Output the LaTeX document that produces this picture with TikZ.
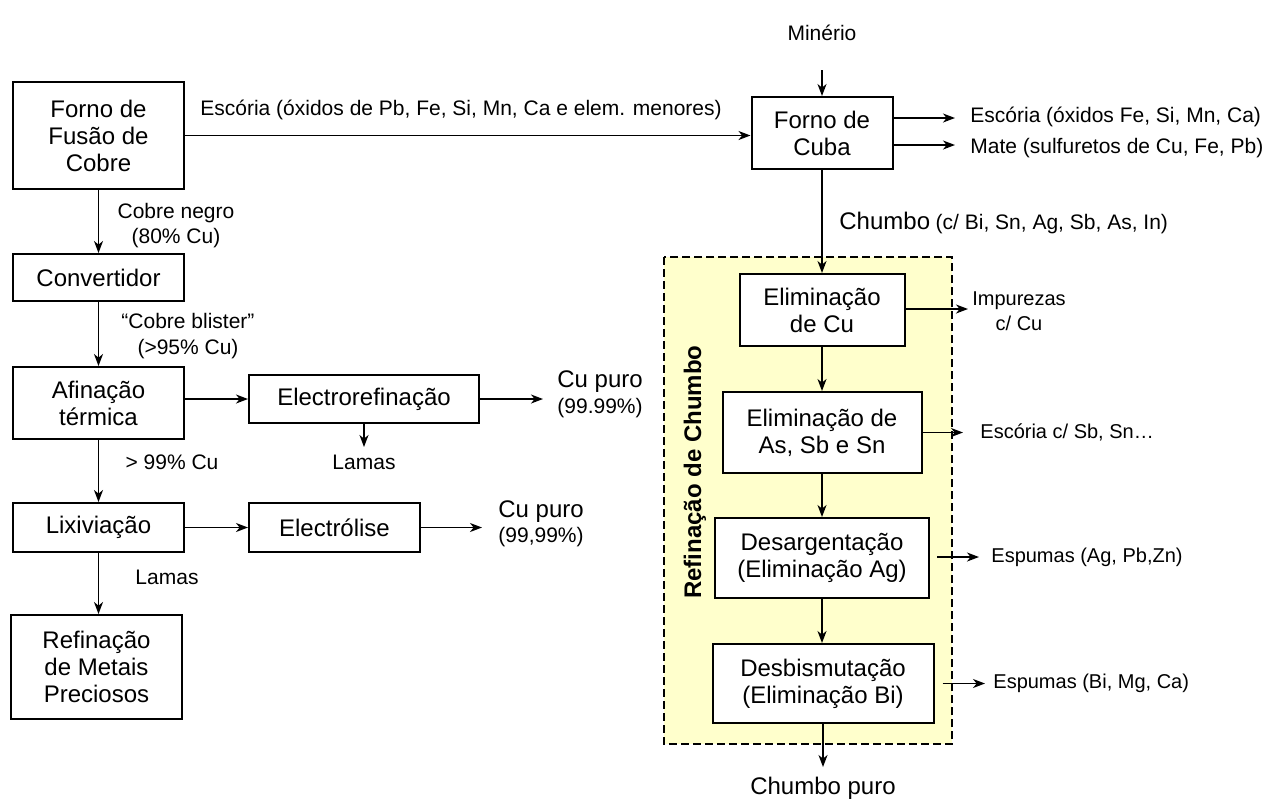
\documentclass[tikz,border=0pt]{standalone}
\usepackage{fontspec}
\setmainfont{Liberation Sans}
\usetikzlibrary{arrows.meta}
\definecolor{panel}{RGB}{255,255,204}

\begin{document}
\begin{tikzpicture}[x=0.5pt,y=-0.5pt,
  box/.style={draw, line width=1pt, fill=white, align=center, inner sep=0pt,
    font=\fontsize{12}{13.5}\selectfont},
  lbl/.style={align=center, inner sep=0pt, font=\fontsize{10.5}{12.8}\selectfont},
  big/.style={inner sep=0pt, font=\fontsize{12}{14}\selectfont},
  outlbl/.style={anchor=west, inner sep=0pt, font=\fontsize{10}{12.5}\selectfont},
  flow/.style={line width=0.75pt, -{Stealth[length=6pt,width=4.5pt,inset=1.8pt]}},
]
\useasboundingbox (0,0) rectangle (1268,800);

% lead refining panel
\draw[fill=panel, line width=0.8pt, dash pattern=on 4pt off 2pt] (664,257) rectangle (952,744);
\node[rotate=90, inner sep=0pt, font=\bfseries\fontsize{12}{14}\selectfont] (refch) at (695,472) {Refinação de Chumbo};

% copper line
\node[box, minimum width=85.5pt, minimum height=53.5pt] (fusao) at (98.5,135.5) {Forno de\\Fusão de\\Cobre};
\node[box, minimum width=85.5pt, minimum height=23.5pt] (conv) at (98.5,277.5) {Convertidor};
\node[box, minimum width=85.5pt, minimum height=36pt] (afin) at (98.5,403) {Afinação\\térmica};
\node[box, minimum width=115pt, minimum height=24pt] (eref) at (364,399) {Electrorefinação};
\node[box, minimum width=85.5pt, minimum height=24.5pt] (lix) at (98.5,527.5) {Lixiviação};
\node[box, minimum width=85.5pt, minimum height=24.5pt] (elise) at (334.5,527.5) {Electrólise};
\node[box, minimum width=85.5pt, minimum height=52pt] (refmp) at (96.5,667) {Refinação\\de Metais\\Preciosos};

% lead line
\node[lbl] (minerio) at (822,33) {Minério};
\node[box, minimum width=70.5pt, minimum height=36pt] (cuba) at (822,133) {Forno de\\Cuba};
\node[box, minimum width=82.5pt, minimum height=36pt] (elcu) at (822,310) {Eliminação\\de Cu};
\node[box, minimum width=99.5pt, minimum height=40.5pt] (elas) at (822,432.5) {Eliminação de\\As, Sb e Sn};
\node[box, minimum width=107pt, minimum height=40pt] (desarg) at (822,558) {Desargentação\\(Eliminação Ag)};
\node[box, minimum width=110.5pt, minimum height=39.5pt] (desbi) at (823,683.5) {Desbismutação\\(Eliminação Bi)};
\node[big] (puro) at (823,788) {Chumbo puro};

% free arrow ends
\coordinate (minin) at (822,70);
\coordinate (lam1) at (364,447);
\coordinate (cu1) at (543,399);
\coordinate (cu2) at (482,527.5);
\coordinate (esc2) at (955,118);
\coordinate (mate) at (955,145);
\coordinate (imp) at (968,309);
\coordinate (escsb) at (963,432.5);
\coordinate (espag) at (979,557);
\coordinate (espbi) at (985,683.5);
\coordinate (pbend) at (823,767);

% copper connectors
\draw[flow] (fusao.east) -- (fusao.east -| cuba.west);
\node[lbl, anchor=west] (escl) at (200,110) {Escória (óxidos de Pb, Fe, Si, Mn, Ca e elem. menores)};
\draw[flow] (fusao.south) -- (conv.north);
\node[lbl] (negro) at (176,225.5) {Cobre negro\\(80\% Cu)};
\draw[flow] (conv.south) -- (afin.north);
\node[lbl] (blister) at (188,336) {“Cobre blister”\\(>95\% Cu)};
\draw[flow] (afin.east |- eref.west) -- (eref.west);
\draw[flow] (eref.south) -- (lam1);
\node[lbl] (lamas1) at (364,462) {Lamas};
\draw[flow] (eref.east) -- (cu1);
\node[big, anchor=west] (cupa) at (557,382) {Cu puro};
\node[lbl, anchor=west] (cupb) at (557,408) {(99.99\%)};
\draw[flow] (afin.south) -- (lix.north);
\node[lbl] (p99) at (172,462) {> 99\% Cu};
\draw[flow] (lix.east) -- (elise.west);
\draw[flow] (elise.east) -- (cu2);
\node[big, anchor=west] (cupc) at (498,512) {Cu puro};
\node[lbl, anchor=west] (cupd) at (498,537) {(99,99\%)};
\draw[flow] (lix.south) -- (lix.south |- refmp.north);
\node[lbl] (lamas2) at (167,577) {Lamas};

% lead connectors
\draw[flow] (minin) -- (cuba.north);
\draw[flow] (cuba.east |- esc2) -- (esc2);
\node[lbl, anchor=west] (escfe) at (970,117) {Escória (óxidos Fe, Si, Mn, Ca)};
\draw[flow] (cuba.east |- mate) -- (mate);
\node[lbl, anchor=west] (matel) at (970,148) {Mate (sulfuretos de Cu, Fe, Pb)};
\draw[flow] (cuba.south) -- (elcu.north);
\node[anchor=west, inner sep=0pt] (chl) at (839,223) {{\fontsize{12}{14}\selectfont Chumbo} {\fontsize{10.5}{13}\selectfont (c/ Bi, Sn, Ag, Sb, As, In)}};
\draw[flow] (elcu.east |- imp) -- (imp);
\node[outlbl, anchor=center, align=center] (impl) at (1019,311) {Impurezas\\c/ Cu};
\draw[flow] (elcu.south) -- (elas.north);
\draw[flow] (elas.east) -- (escsb);
\node[outlbl] (escsbl) at (980,432.5) {Escória c/ Sb, Sn…};
\draw[flow] (elas.south) -- (desarg.north);
\draw[flow] ([xshift=3.5pt]desarg.east |- espag) -- (espag);
\node[outlbl] (espagl) at (991,557) {Espumas (Ag, Pb,Zn)};
\draw[flow] (desarg.south) -- (desarg.south |- desbi.north);
\draw[flow] ([xshift=4pt]desbi.east) -- (espbi);
\node[outlbl] (espbil) at (993,683.5) {Espumas (Bi, Mg, Ca)};
\draw[flow] (desbi.south) -- (pbend);
\end{tikzpicture}
\end{document}
